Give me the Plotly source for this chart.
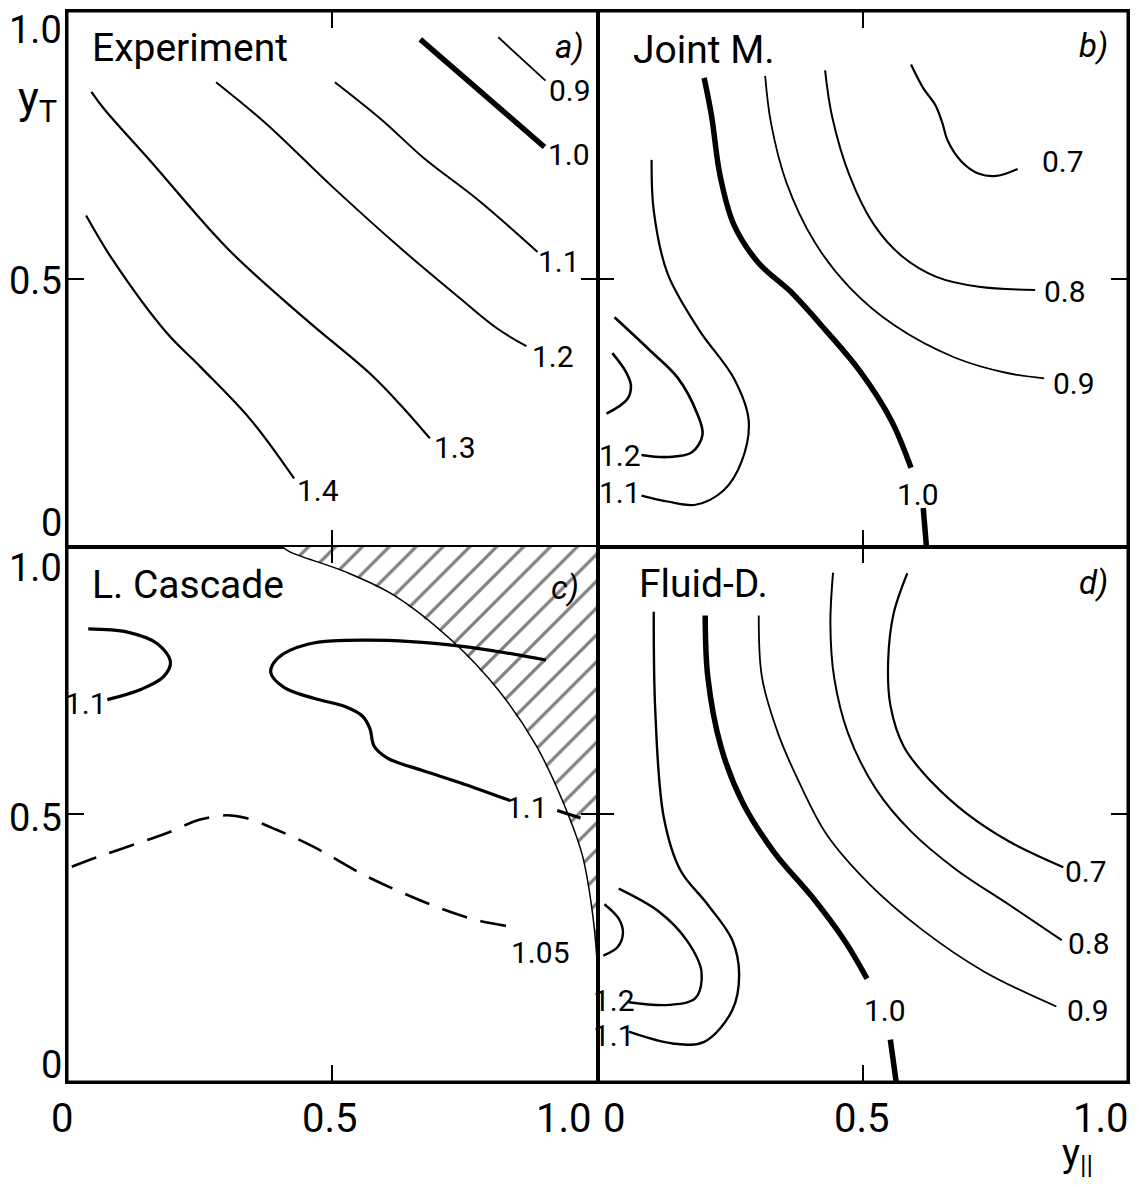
import plotly.graph_objects as go
from plotly.subplots import make_subplots

FONT = "Roboto, Liberation Sans, sans-serif"

# ---------------- Panel a) Experiment ----------------
a_09_x = [0.813, 0.902]
a_09_y = [0.951, 0.870]
a_10_x = [0.666, 0.900]
a_10_y = [0.947, 0.746]
a_11_x = [0.505, 0.593, 0.673, 0.775, 0.887]
a_11_y = [0.867, 0.797, 0.725, 0.647, 0.550]
a_12_x = [0.281, 0.375, 0.499, 0.630, 0.739, 0.811, 0.866]
a_12_y = [0.867, 0.790, 0.673, 0.556, 0.465, 0.407, 0.374]
a_13_x = [0.046, 0.070, 0.158, 0.303, 0.448, 0.572, 0.630, 0.684]
a_13_y = [0.849, 0.817, 0.719, 0.556, 0.426, 0.322, 0.263, 0.202]
a_14_x = [0.036, 0.085, 0.187, 0.252, 0.346, 0.428]
a_14_y = [0.618, 0.537, 0.400, 0.335, 0.237, 0.127]
a_lab_text = ["0.9", "1.0", "1.1", "1.2", "1.3", "1.4"]
a_lab_x = [0.948, 0.946, 0.927, 0.916, 0.731, 0.473]
a_lab_y = [0.852, 0.732, 0.533, 0.355, 0.185, 0.104]

# ---------------- Panel b) Joint M. ----------------
b_07_x = [0.591, 0.614, 0.637, 0.650, 0.660, 0.686, 0.719, 0.752, 0.792]
b_07_y = [0.900, 0.856, 0.824, 0.791, 0.758, 0.719, 0.696, 0.692, 0.705]
b_08_x = [0.429, 0.442, 0.475, 0.521, 0.574, 0.640, 0.719, 0.825]
b_08_y = [0.889, 0.804, 0.693, 0.601, 0.542, 0.503, 0.485, 0.479]
b_09_x = [0.316, 0.327, 0.356, 0.409, 0.475, 0.561, 0.673, 0.772, 0.842]
b_09_y = [0.879, 0.791, 0.680, 0.569, 0.484, 0.412, 0.353, 0.324, 0.314]
b_10_x = [0.201, 0.215, 0.231, 0.257, 0.304, 0.363, 0.429, 0.495, 0.554, 0.591]
b_10_y = [0.875, 0.804, 0.693, 0.601, 0.529, 0.477, 0.405, 0.327, 0.235, 0.147]
b_10b_x = [0.614, 0.620]
b_10b_y = [0.072, 0.0]
b_11_x = [0.102, 0.106, 0.132, 0.191, 0.257, 0.285, 0.271, 0.238, 0.185, 0.132, 0.083]
b_11_y = [0.722, 0.627, 0.510, 0.405, 0.314, 0.235, 0.157, 0.105, 0.078, 0.084, 0.095]
b_12_x = [0.032, 0.099, 0.152, 0.188, 0.198, 0.178, 0.132, 0.083]
b_12_y = [0.428, 0.366, 0.314, 0.248, 0.209, 0.176, 0.167, 0.171]
b_13_x = [0.028, 0.053, 0.063, 0.056, 0.017]
b_13_y = [0.361, 0.327, 0.301, 0.275, 0.248]
b_lab_text = ["0.7", "0.8", "0.9", "1.0", "1.2", "1.1"]
b_lab_x = [0.878, 0.881, 0.898, 0.604, 0.043, 0.043]
b_lab_y = [0.719, 0.477, 0.304, 0.098, 0.170, 0.101]

# ---------------- Panel c) L. Cascade ----------------
c_arc_x = [0.405, 0.420, 0.524, 0.618, 0.726, 0.813, 0.885, 0.935, 0.971, 0.989, 0.999, 1.0]
c_arc_y = [1.0, 0.990, 0.953, 0.908, 0.824, 0.732, 0.627, 0.523, 0.425, 0.327, 0.229, 0.205]
c_corner_x = [1.0, 1.0]
c_corner_y = [1.0, 1.0]
c_11a_x = [0.040, 0.114, 0.171, 0.195, 0.182, 0.139, 0.076]
c_11a_y = [0.846, 0.840, 0.818, 0.784, 0.757, 0.733, 0.714]
c_11b_x = [0.903, 0.741, 0.561, 0.452, 0.398, 0.384, 0.409, 0.467, 0.524, 0.557,
           0.571, 0.579, 0.604, 0.669, 0.741, 0.834]
c_11b_y = [0.788, 0.814, 0.825, 0.817, 0.792, 0.765, 0.737, 0.716, 0.701, 0.683,
           0.660, 0.627, 0.605, 0.582, 0.559, 0.526]
c_11c_x = [0.924, 0.968]
c_11c_y = [0.507, 0.493]
c_105_x = [0.009, 0.063, 0.128, 0.186, 0.251, 0.301, 0.337, 0.395, 0.467, 0.561,
           0.633, 0.705, 0.777, 0.852]
c_105_y = [0.402, 0.422, 0.444, 0.464, 0.490, 0.498, 0.493, 0.471, 0.438, 0.386,
           0.353, 0.324, 0.301, 0.288]
c_lab_text = ["1.1", "1.1", "1.05"]
c_lab_x = [0.036, 0.867, 0.892]
c_lab_y = [0.707, 0.513, 0.242]

# ---------------- Panel d) Fluid-D. ----------------
d_07_x = [0.584, 0.558, 0.548, 0.552, 0.578, 0.630, 0.696, 0.776, 0.878]
d_07_y = [0.950, 0.874, 0.789, 0.704, 0.625, 0.560, 0.501, 0.449, 0.401]
d_08_x = [0.444, 0.439, 0.446, 0.472, 0.525, 0.591, 0.677, 0.776, 0.875]
d_08_y = [0.951, 0.855, 0.756, 0.652, 0.547, 0.468, 0.396, 0.331, 0.265]
d_09_x = [0.304, 0.310, 0.340, 0.380, 0.432, 0.512, 0.611, 0.729, 0.865]
d_09_y = [0.871, 0.756, 0.652, 0.560, 0.462, 0.370, 0.285, 0.206, 0.141]
d_10_x = [0.203, 0.208, 0.233, 0.274, 0.333, 0.406, 0.465, 0.508]
d_10_y = [0.871, 0.756, 0.625, 0.521, 0.429, 0.344, 0.265, 0.193]
d_10b_x = [0.552, 0.563]
d_10b_y = [0.079, 0.0]
d_11_x = [0.106, 0.109, 0.125, 0.156, 0.208, 0.254, 0.267, 0.254, 0.201, 0.142, 0.059]
d_11_y = [0.878, 0.691, 0.494, 0.396, 0.331, 0.265, 0.200, 0.134, 0.075, 0.072, 0.094]
d_12_x = [0.040, 0.116, 0.168, 0.196, 0.185, 0.135, 0.059]
d_12_y = [0.361, 0.318, 0.265, 0.206, 0.157, 0.144, 0.149]
d_13_x = [0.013, 0.040, 0.048, 0.038, 0.011]
d_13_y = [0.332, 0.305, 0.278, 0.252, 0.236]
d_lab_text = ["0.7", "0.8", "0.9", "1.0", "1.2", "1.1"]
d_lab_x = [0.921, 0.927, 0.924, 0.541, 0.032, 0.032]
d_lab_y = [0.393, 0.259, 0.134, 0.134, 0.152, 0.086]

# ---------------- Texts ----------------
panel_titles = ["Experiment", "Joint M.", "L. Cascade", "Fluid-D."]
panel_letters = ["a)", "b)", "c)", "d)"]
y_tick_labels = ["0", "0.5", "1.0"]
y_tick_vals = [0.0, 0.5, 1.0]
x_tick_labels = ["0", "0.5", "1.0"]
x_tick_vals = [0.0, 0.5, 1.0]

fig = make_subplots(rows=2, cols=2, horizontal_spacing=0, vertical_spacing=0)


def add_line(x, y, row, col, width=2.0, dash=None):
    fig.add_trace(go.Scatter(
        x=x, y=y, mode="lines",
        line=dict(color="black", width=width, shape="spline", smoothing=1.0,
                  dash=dash if dash else "solid"),
        hoverinfo="skip", showlegend=False), row=row, col=col)


# hatched (kinematically forbidden) region in panel c
fig.add_trace(go.Scatter(
    x=c_arc_x + c_corner_x, y=c_arc_y + c_corner_y, mode="lines",
    fill="toself", fillcolor="white",
    fillpattern=dict(shape="/", fgcolor="black", bgcolor="white", size=19, solidity=0.17),
    line=dict(width=0, color="rgba(0,0,0,0)"),
    hoverinfo="skip", showlegend=False), row=2, col=1)

# panel a
add_line(a_09_x, a_09_y, 1, 1, 1.8)
add_line(a_10_x, a_10_y, 1, 1, 5.5)
add_line(a_11_x, a_11_y, 1, 1, 2.0)
add_line(a_12_x, a_12_y, 1, 1, 2.0)
add_line(a_13_x, a_13_y, 1, 1, 2.2)
add_line(a_14_x, a_14_y, 1, 1, 2.2)
# panel b
add_line(b_07_x, b_07_y, 1, 2, 2.2)
add_line(b_08_x, b_08_y, 1, 2, 2.0)
add_line(b_09_x, b_09_y, 1, 2, 1.8)
add_line(b_10_x, b_10_y, 1, 2, 5.5)
add_line(b_10b_x, b_10b_y, 1, 2, 5.5)
add_line(b_11_x, b_11_y, 1, 2, 2.2)
add_line(b_12_x, b_12_y, 1, 2, 2.6)
add_line(b_13_x, b_13_y, 1, 2, 2.6)
# panel c
add_line(c_arc_x, c_arc_y, 2, 1, 1.5)
add_line(c_11a_x, c_11a_y, 2, 1, 3.2)
add_line(c_11b_x, c_11b_y, 2, 1, 3.2)
add_line(c_11c_x, c_11c_y, 2, 1, 3.2)
add_line(c_105_x, c_105_y, 2, 1, 2.6, dash="26px,14px")
# panel d
add_line(d_07_x, d_07_y, 2, 2, 2.2)
add_line(d_08_x, d_08_y, 2, 2, 2.0)
add_line(d_09_x, d_09_y, 2, 2, 1.8)
add_line(d_10_x, d_10_y, 2, 2, 5.5)
add_line(d_10b_x, d_10b_y, 2, 2, 5.5)
add_line(d_11_x, d_11_y, 2, 2, 2.4)
add_line(d_12_x, d_12_y, 2, 2, 2.4)
add_line(d_13_x, d_13_y, 2, 2, 2.4)

axis_common = dict(range=[0, 1], showgrid=False, zeroline=False, showline=True,
                   linecolor="black", linewidth=1.5, mirror="ticks", ticks="inside",
                   tickvals=[0.5], ticklen=17, tickwidth=2, tickcolor="black",
                   showticklabels=False, fixedrange=True)
fig.update_xaxes(**axis_common)
fig.update_yaxes(**axis_common)

ann = []
refs = [("x", "y"), ("x2", "y2"), ("x3", "y3"), ("x4", "y4")]
labels = [(a_lab_text, a_lab_x, a_lab_y), (b_lab_text, b_lab_x, b_lab_y),
          (c_lab_text, c_lab_x, c_lab_y), (d_lab_text, d_lab_x, d_lab_y)]
for (xr, yr), (txt, lx, ly) in zip(refs, labels):
    for t, x, y in zip(txt, lx, ly):
        ann.append(dict(text=t, x=x, y=y, xref=xr, yref=yr, showarrow=False,
                        xanchor="center", yanchor="middle",
                        font=dict(family=FONT, size=30, color="black")))

title_pos = [(0.043, 0.930), (0.064, 0.928), (0.043, 0.929), (0.075, 0.930)]
letter_pos = [(0.978, 0.933), (0.966, 0.935), (0.968, 0.924), (0.967, 0.933)]
for (xr, yr), t, l, tp, lp in zip(refs, panel_titles, panel_letters, title_pos, letter_pos):
    ann.append(dict(text=t, x=tp[0], y=tp[1], xref=xr + " domain", yref=yr + " domain",
                    showarrow=False, xanchor="left", yanchor="middle",
                    font=dict(family=FONT, size=39, color="black")))
    ann.append(dict(text="<i>" + l + "</i>", x=lp[0], y=lp[1], xref=xr + " domain",
                    yref=yr + " domain", showarrow=False, xanchor="right", yanchor="middle",
                    font=dict(family=FONT, size=33, color="black")))

# left tick labels (both rows), shifted like the printed figure
y_shift_rows = {"y": [24, -2, -19], "y3": [17, -4, -21]}
for yr, shifts in y_shift_rows.items():
    for t, v, s in zip(y_tick_labels, y_tick_vals, shifts):
        ann.append(dict(text=t, x=0, y=v, xref="x domain", yref=yr, showarrow=False,
                        xanchor="right", yanchor="middle", xshift=-3, yshift=s,
                        font=dict(family=FONT, size=38, color="black")))

# bottom tick labels (both columns)
x_shift_cols = {"x3": [-5, -2, -34], "x4": [16, -1, -27]}
for xr, shifts in x_shift_cols.items():
    for t, v, s in zip(x_tick_labels, x_tick_vals, shifts):
        ann.append(dict(text=t, x=v, y=0, xref=xr, yref="y3 domain", showarrow=False,
                        xanchor="center", yanchor="middle", xshift=s, yshift=-36,
                        font=dict(family=FONT, size=40, color="black")))

# axis titles
ann.append(dict(text="y<sub>T</sub>", x=-0.055, y=0.832, xref="x domain", yref="y domain",
                showarrow=False, xanchor="center", yanchor="middle",
                font=dict(family=FONT, size=44, color="black")))
ann.append(dict(text="y<sub>||</sub>", x=0.905, y=-0.138, xref="x4 domain", yref="y3 domain",
                showarrow=False, xanchor="center", yanchor="middle",
                font=dict(family=FONT, size=38, color="black")))

# page body adds an 8px margin around the figure, so the figure is 16px smaller
fig.update_layout(width=1123, height=1171, plot_bgcolor="white", paper_bgcolor="white",
                  margin=dict(l=59, r=2, t=1, b=97), annotations=ann, showlegend=False,
                  shapes=[dict(type="rect", xref="paper", yref="paper", x0=0, y0=0, x1=1, y1=1,
                               line=dict(color="black", width=3), layer="above")])

fig.write_html("out.html")
